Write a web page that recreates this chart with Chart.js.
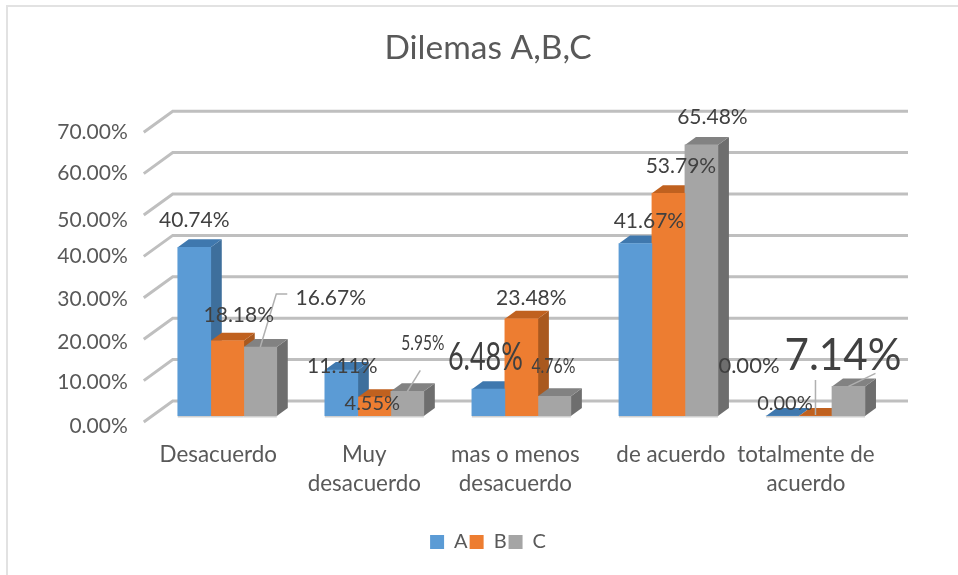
<!DOCTYPE html>
<html>
<head>
<meta charset="utf-8">
<title>Dilemas A,B,C</title>
<script src="https://cdn.jsdelivr.net/npm/chart.js@4"></script>
<style>
  html, body { margin: 0; padding: 0; background: #fff; overflow: hidden; }
  #frame { position: absolute; left: 6px; top: 5px; width: 952px; height: 570px; border-top: 2px solid #e2e2e2; border-left: 2px solid #e2e2e2; box-sizing: border-box; }
  #wrap { position: absolute; left: 0; top: 0; width: 958px; height: 575px; }
</style>
</head>
<body>
<div id="frame"></div>
<div id="wrap"><canvas id="chart" width="958" height="575"></canvas></div>
<script>
// data
const categories = [['Desacuerdo', ''], ['Muy', 'desacuerdo'], ['mas o menos', 'desacuerdo'], ['de acuerdo', ''], ['totalmente de', 'acuerdo']];
const seriesNames = ['A', 'B', 'C'];
const valuesA = [40.74, 11.11, 6.48, 41.67, 0];
const valuesB = [18.18, 4.55, 23.48, 53.79, 0];
const valuesC = [16.67, 5.95, 4.76, 65.48, 7.14];
const axisTicks = [0, 10, 20, 30, 40, 50, 60, 70];

// colours: front, side, top
const frontColors = ['#5B9BD5', '#ED7D31', '#A5A5A5'];
const sideColors = ['#3E6F9C', '#A9591F', '#6E6E6E'];
const topColors = ['#3F78AE', '#C0611F', '#828282'];

// hand placed labels in the original, offsets are from the top centre of each bar
const labelOffsets = [
  [[0, -27], [1, -4], [-3, -32], [13.5, -22.5], [-33.5, -50]],
  [[11.5, -25.7], [-2, 6], [10, -21], [12.5, -27], [-30.5, -12]],
  [[70.5, -49], [15.5, -48], [-1, -30], [11, -28], [-5.5, -31]]
];
const labelSizes = [
  [21, 21, 39, 21, 22],
  [21, 20, 21, 21, 20],
  [21, 22, 22, 21, 44]
];
const labelWidths = [
  [72, 72, 75, 72, 68],
  [72, 59, 72, 72, 58],
  [72, 43, 44, 72, 117]
];
const leaders = {
  '2-0': [[0, 0], [16, -53], [27, -53]],
  '2-1': [[0, 0], [13, -21]],
  '1-4': [[0, -1], [0, -36]],
  '2-4': [[0, 0], [27, -13]]
};

// labels don't sit exactly on the tick positions in the original
const yTickShift = [10, 7.4, 9, 7, 5.6, 11, 5.4, 6];
const xTickShift = [-9, -10, -6, 2.5, -9.5];

const depth = { x: 11, y: -8 };
const wall = { x: 29, y: -21, frontDrop: 6, left: -10, right: 19 };

function shiftTicks(scale, shifts) {
  const base = Object.getPrototypeOf(scale).getPixelForTick;
  scale.getPixelForTick = function (i) {
    return base.call(this, i) + (shifts[i] || 0);
  };
  // y labels hang out of the narrow axis box, don't clip them
  scale._computeLabelArea = () => undefined;
}

function poly(ctx, pts, color) {
  ctx.fillStyle = color;
  ctx.beginPath();
  pts.forEach((p, i) => i ? ctx.lineTo(p[0], p[1]) : ctx.moveTo(p[0], p[1]));
  ctx.closePath();
  ctx.fill();
}

const bars3d = {
  id: 'bars3d',
  beforeDatasetsDraw(chart) {
    const ctx = chart.ctx, area = chart.chartArea, y = chart.scales.y;
    ctx.save();
    // back wall lines
    ctx.strokeStyle = '#bfbfbf';
    ctx.lineWidth = 3;
    axisTicks.forEach(v => {
      const py = y.getPixelForValue(v);
      ctx.beginPath();
      ctx.moveTo(area.left + wall.left, py + wall.frontDrop);
      ctx.lineTo(area.left + wall.right, py + wall.y + wall.frontDrop);
      ctx.lineTo(area.right + wall.right, py + wall.y + wall.frontDrop);
      ctx.stroke();
    });
    // bar sides and tops
    chart.data.datasets.forEach((ds, d) => {
      chart.getDatasetMeta(d).data.forEach(bar => {
        const r = bar.x + bar.width / 2, l = bar.x - bar.width / 2;
        poly(ctx, [[r, bar.y], [r + depth.x, bar.y + depth.y], [r + depth.x, bar.base + depth.y], [r, bar.base]], sideColors[d]);
        poly(ctx, [[l, bar.y], [l + depth.x, bar.y + depth.y], [r + depth.x, bar.y + depth.y], [r, bar.y]], topColors[d]);
      });
    });
    ctx.restore();
  },
  afterDatasetsDraw(chart) {
    const ctx = chart.ctx;
    ctx.save();
    chart.data.datasets.forEach((ds, d) => {
      chart.getDatasetMeta(d).data.forEach((bar, i) => {
        // soft edge under the bars
        ctx.fillStyle = '#cfcfcf';
        ctx.fillRect(bar.x - bar.width / 2, bar.base, bar.width, 1.5);
        const line = leaders[d + '-' + i];
        if (line) {
          ctx.strokeStyle = '#b0b0b0';
          ctx.lineWidth = 1.5;
          ctx.beginPath();
          line.forEach((p, n) => n ? ctx.lineTo(bar.x + p[0], bar.y + p[1]) : ctx.moveTo(bar.x + p[0], bar.y + p[1]));
          ctx.stroke();
        }
      });
    });
    // value labels
    ctx.fillStyle = '#404040';
    ctx.textAlign = 'center';
    ctx.textBaseline = 'middle';
    chart.data.datasets.forEach((ds, d) => {
      chart.getDatasetMeta(d).data.forEach((bar, i) => {
        ctx.font = labelSizes[d][i] + 'px Lato';
        ctx.fillText(ds.data[i].toFixed(2) + '%', bar.x + labelOffsets[d][i][0], bar.y + labelOffsets[d][i][1], labelWidths[d][i]);
      });
    });
    ctx.restore();
  }
};

const seriesValues = [valuesA, valuesB, valuesC];

new Chart(document.getElementById('chart'), {
  type: 'bar',
  data: {
    labels: categories,
    datasets: seriesNames.map((name, i) => ({
      label: name,
      data: seriesValues[i],
      backgroundColor: frontColors[i],
      barThickness: 33
    }))
  },
  plugins: [bars3d],
  options: {
    responsive: false,
    animation: false,
    layout: { padding: { left: 87, right: 69, top: 0, bottom: 13 } },
    plugins: {
      title: {
        display: true,
        text: 'Dilemas A,B,C',
        color: '#595959',
        font: { family: 'Lato', size: 33.5, weight: 'normal' },
        padding: { top: 28, bottom: 58 }
      },
      legend: {
        position: 'bottom',
        labels: {
          color: '#595959',
          font: { family: 'Lato', size: 20 },
          boxWidth: 14,
          boxHeight: 14,
          padding: 2
        }
      },
      tooltip: { enabled: false }
    },
    scales: {
      x: {
        grid: { display: false },
        border: { display: false },
        afterFit(scale) { scale.height = 114; },
        afterUpdate(scale) { if (!scale.shifted) { scale.shifted = true; shiftTicks(scale, xTickShift); } },
        ticks: {
          color: '#595959',
          font: { family: 'Lato', size: 22.4, lineHeight: 1.3 },
          padding: 16,
          autoSkip: false,
          maxRotation: 0,
          minRotation: 0
        }
      },
      y: {
        min: 0,
        max: 70,
        grid: { display: false },
        border: { display: false },
        afterBuildTicks(scale) { scale.ticks = axisTicks.map(v => ({ value: v })); },
        afterFit(scale) { scale.width = 66.75; },
        afterUpdate(scale) { if (!scale.shifted) { scale.shifted = true; shiftTicks(scale, yTickShift); } },
        ticks: {
          color: '#595959',
          font: { family: 'Lato', size: 21 },
          padding: 18,
          callback: v => v.toFixed(2) + '%'
        }
      }
    }
  }
});
</script>
</body>
</html>
